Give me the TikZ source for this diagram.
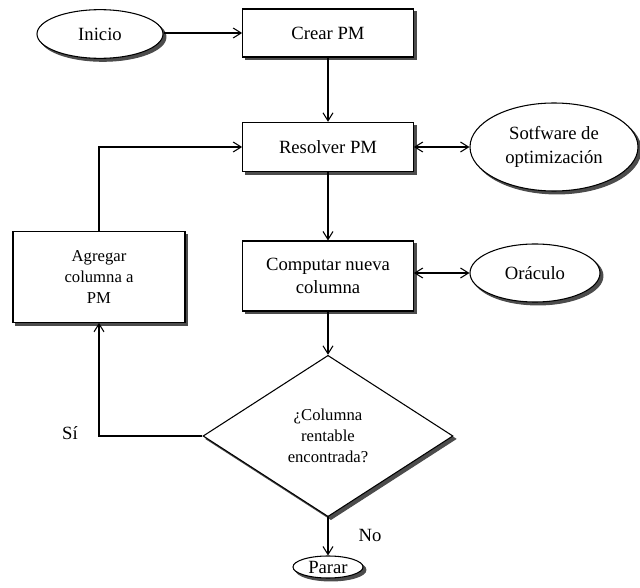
\documentclass[tikz,border=0pt]{standalone}
\usepackage{fontspec}
\setmainfont{Liberation Serif}
\usetikzlibrary{shapes.geometric}
\usetikzlibrary{arrows.meta, positioning}

\tikzset{
    sombra/.style={preaction={fill=black!70, draw=black!70, transform canvas={xshift=2.2pt, yshift=-2.2pt}}},
    caja/.style={draw, fill=white, line width=0.8pt, align=center, minimum width=128pt, sombra},
    elipse/.style={ellipse, draw, fill=white, line width=0.8pt, align=center, inner sep=0pt, sombra},
    decision/.style={diamond, draw, fill=white, line width=0.8pt, align=center, inner sep=0pt, aspect=1.55, sombra},
    chica/.style={font=\fontsize{12.5}{15.5}\selectfont},
    flecha/.style={-{Straight Barb[length=6pt, width=7.5pt]}, line width=0.8pt},
    dobleflecha/.style={{Straight Barb[length=6pt, width=7.5pt]}-{Straight Barb[length=6pt, width=7.5pt]}, line width=0.8pt}
}

\begin{document}
\begin{tikzpicture}[x=0.75pt, y=-0.75pt, font=\fontsize{14}{17.5}\selectfont]
    \useasboundingbox (0,0) rectangle (640,588);

    % Draw the nodes of the main column
    \node[elipse, minimum width=94.5pt, minimum height=36.5pt] (inicio) at (100,34) {Inicio};
    \node[caja, minimum height=36pt] (crear) at (328,33) {Crear PM};
    \node[caja, minimum height=37pt] (resolver) at (328,147) {Resolver PM};
    \node[caja, minimum height=52.5pt] (computar) at (328,276) {Computar nueva\\columna};
    \node[decision, chica, minimum width=187.5pt, minimum height=121pt] (pregunta) at (328,436) {¿Columna\\rentable\\encontrada?};
    \node[elipse, minimum width=52.5pt, minimum height=16.5pt] (parar) at (328,567) {Parar};

    % Draw the side nodes
    \node[elipse, minimum width=126pt, minimum height=66pt] (software) at (554,147) {Sotfware de\\optimización};
    \node[elipse, minimum width=97.5pt, minimum height=43.5pt] (oraculo) at (535,273) {Oráculo};
    \node[caja, chica, minimum width=129pt, minimum height=68pt] (agregar) at (99,277) {Agregar\\columna a\\PM};

    % Draw the connectors
    \draw[flecha] (inicio.east |- crear) -- (crear);
    \draw[flecha] (crear) -- (resolver);
    \draw[flecha] (resolver) -- (computar);
    \draw[flecha] (computar) -- (pregunta);
    \draw[flecha] (pregunta) -- (parar);
    \draw[dobleflecha] (resolver) -- (software);
    \draw[dobleflecha] (computar.east |- oraculo) -- (oraculo);
    \draw[flecha] (pregunta.west) -| (agregar.south);
    \draw[flecha] (agregar.north) |- (resolver.west);

    % Add labels of the decision
    \node (si) at (70,433) {Sí};
    \node (no) at (370,535) {No};

\end{tikzpicture}
\end{document}
